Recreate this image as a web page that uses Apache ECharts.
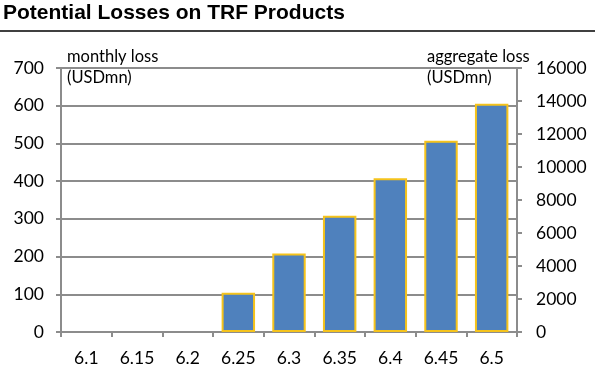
<!DOCTYPE html>
<html><head><meta charset="utf-8">
<script src="https://cdn.jsdelivr.net/npm/echarts@6/dist/echarts.min.js"></script>
<style>html,body{margin:0;padding:0;background:#fff}#c{width:595px;height:382px}</style>
</head><body><div id="c"></div>
<script>
const titleText = 'Potential Losses on TRF Products';
const categories = ['6.1','6.15','6.2','6.25','6.3','6.35','6.4','6.45','6.5'];
const monthlyLoss = [null, null, null, 104, 208, 308, 408, 507, 605];
const leftTicks = {min: 0, max: 700, interval: 100};
const rightTicks = {min: 0, max: 16000, interval: 2000};
const leftAxisName = ['monthly loss', '(USDmn)'];
const rightAxisName = ['aggregate loss', '(USDmn)'];

const F = 'Lato, "Open Sans", sans-serif';
const axisGray = '#8c8c8c';
const chart = echarts.init(document.getElementById('c'), null, {renderer: 'canvas'});
chart.setOption({
  animation: false,
  backgroundColor: '#fff',
  grid: {left: 61, right: 78, top: 68, bottom: 50, containLabel: false},
  graphic: [
    {type: 'text', left: 3, top: 3, style: {text: titleText, font: 'bold 21px "Liberation Sans", Arial, sans-serif', fill: '#000'}},
    {type: 'line', shape: {x1: 0, y1: 31, x2: 595, y2: 31}, style: {stroke: '#000', lineWidth: 1.5}},
    {type: 'text', left: 67, top: 46, style: {text: leftAxisName.join('\n'), font: '16.5px ' + F, fill: '#000', lineHeight: 21}},
    {type: 'text', left: 427, top: 46, style: {text: rightAxisName.join('\n'), font: '16.5px ' + F, fill: '#000', lineHeight: 21}}
  ],
  xAxis: {
    type: 'category', data: categories,
    axisLine: {lineStyle: {color: axisGray, width: 2}},
    axisTick: {show: true, length: 5, lineStyle: {color: axisGray, width: 2}},
    axisLabel: {color: '#000', fontSize: 17.5, fontFamily: F, margin: 17}
  },
  yAxis: [
    {type: 'value', min: leftTicks.min, max: leftTicks.max, interval: leftTicks.interval, position: 'left',
     axisLine: {show: true, lineStyle: {color: axisGray, width: 2}},
     axisTick: {show: true, length: 5, lineStyle: {color: axisGray, width: 2}},
     splitLine: {show: true, lineStyle: {color: axisGray, width: 2}},
     axisLabel: {color: '#000', fontSize: 17.5, fontFamily: F, margin: 17}},
    {type: 'value', min: rightTicks.min, max: rightTicks.max, interval: rightTicks.interval, position: 'right',
     axisLine: {show: true, lineStyle: {color: axisGray, width: 2}},
     axisTick: {show: true, length: 5, lineStyle: {color: axisGray, width: 2}},
     splitLine: {show: false},
     axisLabel: {color: '#000', fontSize: 17.5, fontFamily: F, margin: 19, formatter: v => String(v)}}
  ],
  series: [{
    type: 'bar', yAxisIndex: 0, data: monthlyLoss, barWidth: '66%',
    itemStyle: {color: '#4f81bd', borderColor: '#f5c31c', borderWidth: 2}
  }]
});
</script></body></html>
